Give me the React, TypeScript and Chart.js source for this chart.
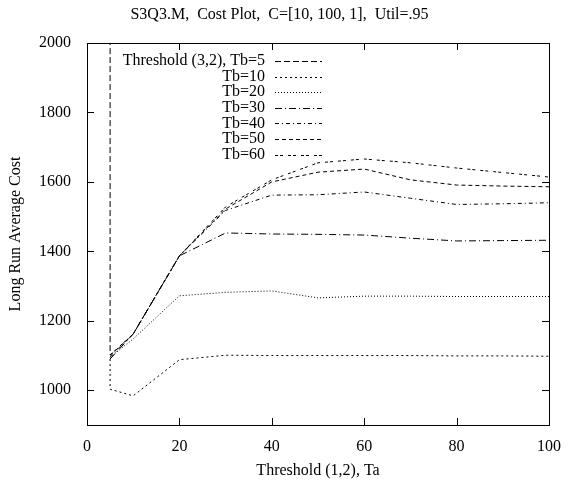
import { useEffect, useRef } from 'react';
import { Chart, registerables } from 'chart.js';

Chart.register(...registerables);

const FONT = '"Liberation Serif", "Times New Roman", serif';

const titleText = 'S3Q3.M,  Cost Plot,  C=[10, 100, 1],  Util=.95';
const xTitle = 'Threshold (1,2), Ta';
const yTitle = 'Long Run Average Cost';

const xTicks = [0, 20, 40, 60, 80, 100];
const yTicks = [1000, 1200, 1400, 1600, 1800, 2000];

const seriesLabels = [
  'Threshold (3,2), Tb=5',
  'Tb=10',
  'Tb=20',
  'Tb=30',
  'Tb=40',
  'Tb=50',
  'Tb=60',
];

const ta = [5, 10, 20, 30, 40, 50, 60, 70, 80, 90, 100];

const tb5Ta = [5, 5];
const tb5Cost = [2400, 1102];

const tb10Ta = [5, 5, 10, 20, 30, 40, 50, 60, 70, 80, 90, 100];
const tb10Cost = [1090, 1003, 984, 1088, 1101, 1100, 1100, 1100, 1100, 1099, 1099, 1098];

const tb20Cost = [1095, 1148, 1272, 1282, 1286, 1266, 1271, 1271, 1270, 1270, 1270];
const tb30Cost = [1090, 1162, 1387, 1453, 1450, 1449, 1447, 1438, 1430, 1431, 1432];
const tb40Cost = [1095, 1162, 1387, 1518, 1562, 1563, 1571, 1553, 1535, 1537, 1540];
const tb50Cost = [1100, 1162, 1387, 1522, 1600, 1628, 1637, 1606, 1591, 1588, 1586];
const tb60Cost = [1102, 1162, 1387, 1528, 1606, 1655, 1666, 1655, 1640, 1627, 1614];

const dashes: number[][] = [
  [6, 3],
  [2, 3],
  [1, 2],
  [7, 3, 1, 3],
  [4, 3, 1, 3],
  [4, 3],
  [3, 2, 3, 5],
];

const pair = (xs: number[], ys: number[]) => xs.map((x, i) => ({ x, y: ys[i] }));

const borderTicksPlugin = {
  id: 'borderTicks',
  afterDatasetsDraw(chart: any) {
    const { ctx, chartArea } = chart;
    const { left, right, top, bottom } = chartArea;
    const xs = chart.scales.x;
    const ys = chart.scales.y;
    const L = 7;
    ctx.save();
    ctx.strokeStyle = '#000';
    ctx.lineWidth = 1;
    ctx.setLineDash([]);
    ctx.beginPath();
    for (const v of xTicks) {
      const px = Math.round(xs.getPixelForValue(v)) + 0.5;
      ctx.moveTo(px, bottom);
      ctx.lineTo(px, bottom - L);
      ctx.moveTo(px, top);
      ctx.lineTo(px, top + L);
    }
    for (const v of yTicks) {
      const py = Math.round(ys.getPixelForValue(v)) + 0.5;
      ctx.moveTo(left, py);
      ctx.lineTo(left + L, py);
      ctx.moveTo(right, py);
      ctx.lineTo(right - L, py);
    }
    ctx.stroke();
    ctx.strokeRect(Math.round(left) + 0.5, Math.round(top) + 0.5, Math.round(right - left), Math.round(bottom - top));
    ctx.restore();
  },
};

const innerLegendPlugin = {
  id: 'innerLegend',
  afterDraw(chart: any) {
    const { ctx, chartArea } = chart;
    const textRight = chartArea.left + 178;
    const lineStart = chartArea.left + 188;
    const lineEnd = chartArea.left + 235;
    const rowTop = chartArea.top + 18;
    const rowH = 15.6;
    ctx.save();
    ctx.font = `16px ${FONT}`;
    ctx.fillStyle = '#000';
    ctx.textAlign = 'right';
    ctx.textBaseline = 'middle';
    chart.data.datasets.forEach((ds: any, i: number) => {
      const y = rowTop + i * rowH;
      ctx.fillText(ds.label, textRight, y);
      ctx.strokeStyle = '#000';
      ctx.lineWidth = 1;
      ctx.setLineDash(ds.borderDash || []);
      ctx.beginPath();
      ctx.moveTo(lineStart, Math.round(y) + 0.5);
      ctx.lineTo(lineEnd, Math.round(y) + 0.5);
      ctx.stroke();
    });
    ctx.restore();
  },
};

export default function App() {
  const ref = useRef<HTMLCanvasElement>(null);

  useEffect(() => {
    const seriesData = [
      pair(tb5Ta, tb5Cost),
      pair(tb10Ta, tb10Cost),
      pair(ta, tb20Cost),
      pair(ta, tb30Cost),
      pair(ta, tb40Cost),
      pair(ta, tb50Cost),
      pair(ta, tb60Cost),
    ];
    const chart = new Chart(ref.current!, {
      type: 'line',
      data: {
        datasets: seriesData.map((d, i) => ({
          label: seriesLabels[i],
          data: d,
          borderColor: '#000',
          borderWidth: 1,
          borderDash: dashes[i],
          pointRadius: 0,
          fill: false,
          tension: 0,
        })),
      },
      options: {
        responsive: false,
        animation: false,
        events: [],
        layout: { padding: { left: 0, right: 14, top: 0, bottom: 0 } },
        plugins: {
          legend: { display: false },
          tooltip: { enabled: false },
          title: {
            display: true,
            text: titleText,
            color: '#000',
            font: { family: FONT, size: 16, weight: 'normal' },
            padding: { top: 5, bottom: 18.8 },
          },
        },
        scales: {
          x: {
            type: 'linear',
            min: 0,
            max: 100,
            afterBuildTicks: (s: any) => {
              s.ticks = xTicks.map((v) => ({ value: v }));
            },
            afterFit: (s: any) => {
              s.height = 64;
            },
            ticks: {
              color: '#000',
              font: { family: FONT, size: 16 },
              padding: 12,
              maxRotation: 0,
              callback: (v: any) => String(v),
            },
            grid: { display: false, drawTicks: false },
            border: { display: false },
            title: {
              display: true,
              text: xTitle,
              color: '#000',
              font: { family: FONT, size: 16 },
              padding: { top: 0, bottom: 8.4 },
            },
          },
          y: {
            type: 'linear',
            min: 900,
            max: 2000,
            afterBuildTicks: (s: any) => {
              s.ticks = yTicks.map((v) => ({ value: v }));
            },
            afterFit: (s: any) => {
              s.width = 87;
            },
            ticks: {
              color: '#000',
              font: { family: FONT, size: 16 },
              padding: 16,
              callback: (v: any) => String(v),
            },
            grid: { display: false, drawTicks: false },
            border: { display: false },
            title: {
              display: true,
              text: yTitle,
              color: '#000',
              font: { family: FONT, size: 16 },
              padding: { top: 6.4, bottom: 0 },
            },
          },
        },
      },
      plugins: [borderTicksPlugin, innerLegendPlugin],
    } as any);
    return () => chart.destroy();
  }, []);

  return (
    <div style={{ position: 'absolute', left: 0, top: 0, width: 573, height: 489, background: '#fff' }}>
      <canvas ref={ref} width={573} height={489} style={{ display: 'block' }} />
    </div>
  );
}
